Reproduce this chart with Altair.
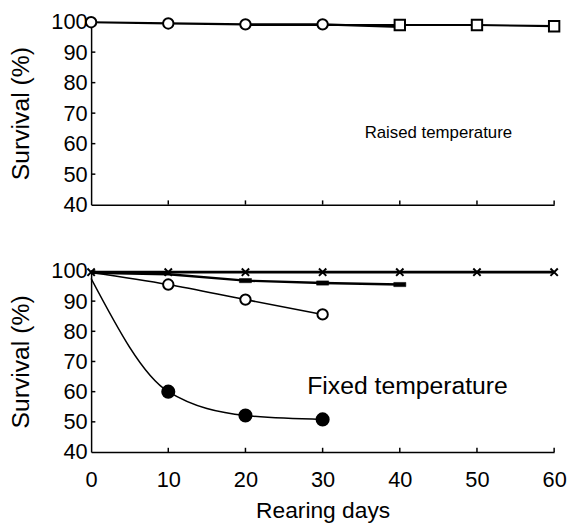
import altair as alt
import pandas as pd

# ---------------- data ----------------
# Raised temperature panel
raised_circle_days = [0, 10, 20, 30, 40]
raised_circle_vals = [99.8, 99.4, 99.1, 99.1, 98.3]
raised_circle_mark = [True, True, True, True, False]
raised_square_days = [20, 30, 40, 50, 60]
raised_square_vals = [98.9, 98.9, 98.9, 98.9, 98.5]
raised_square_mark = [False, False, True, True, True]

# Fixed temperature panel
fixed_cross_days = [0, 10, 20, 30, 40, 50, 60]
fixed_cross_vals = [99.6, 99.6, 99.6, 99.6, 99.6, 99.6, 99.6]
fixed_dash_days = [0, 10, 20, 30, 40]
fixed_dash_vals = [99.4, 98.9, 96.8, 96.0, 95.5]
fixed_dash_mark = [False, False, True, True, True]
fixed_open_days = [0, 10, 20, 30]
fixed_open_vals = [99.5, 95.5, 90.5, 85.6]
fixed_open_mark = [False, True, True, True]
fixed_filled_days = [0, 10, 20, 30]
fixed_filled_vals = [97.5, 60.0, 52.1, 50.8]
fixed_filled_mark = [False, True, True, True]

y_tick_values = [40, 50, 60, 70, 80, 90, 100]
x_tick_values = [0, 10, 20, 30, 40, 50, 60]
inner_y_ticks = [50, 60, 70, 80, 90, 100]
inner_x_ticks = [10, 20, 30, 40, 50, 60]

FONT = "Liberation Sans"
W = 468
H_TOP, H_BOT = 185, 183

CROSS = "M-1,-1L1,1M-1,1L1,-1"
DASH = "M-1,-0.35L1,-0.35L1,0.35L-1,0.35Z"

xscale = alt.Scale(domain=[0, 60], nice=False, zero=False)
yscale = alt.Scale(domain=[40, 100], nice=False, zero=False)

YAXIS = alt.Axis(values=y_tick_values, title="Survival (%)", ticks=False, labelPadding=4,
                 titlePadding=18, titleFontSize=25)
XAXIS_TOP = alt.Axis(values=x_tick_values, labels=False, ticks=False, title=None)
XAXIS_BOT = alt.Axis(values=x_tick_values, ticks=False, title="Rearing days",
                     labelPadding=18, titlePadding=9)


def enc(xa, ya, xf="day:Q", yf="val:Q"):
    return dict(x=alt.X(xf, scale=xscale, axis=xa), y=alt.Y(yf, scale=yscale, axis=ya))


def series_df(days, vals, marks=None):
    df = pd.DataFrame({"day": days, "val": vals})
    if marks is not None:
        df["mark"] = marks
    return df


def line(df, xa, width=2.0, interp="linear"):
    return alt.Chart(df).mark_line(color="black", strokeWidth=width, interpolate=interp).encode(
        **enc(xa, YAXIS)
    )


def points(df, xa, shape, size, fill, stroke_w=2.0, filled=True):
    d = df[df["mark"]] if "mark" in df.columns else df
    kw = dict(shape=shape, size=size, stroke="black", strokeWidth=stroke_w, opacity=1)
    if filled:
        kw.update(filled=True, fill=fill)
    else:
        kw.update(filled=False)
    return alt.Chart(d).mark_point(**kw).encode(**enc(xa, YAXIS))


def ticks(xa):
    ydf = pd.DataFrame({"val": inner_y_ticks, "day": [0] * len(inner_y_ticks),
                        "day2": [0.55] * len(inner_y_ticks)})
    xdf = pd.DataFrame({"day": inner_x_ticks, "val": [40] * len(inner_x_ticks),
                        "val2": [41.4] * len(inner_x_ticks)})
    yt = alt.Chart(ydf).mark_rule(color="black", strokeWidth=1.5).encode(
        **enc(xa, YAXIS), x2="day2:Q"
    )
    xt = alt.Chart(xdf).mark_rule(color="black", strokeWidth=1.5).encode(
        **enc(xa, YAXIS), y2="val2:Q"
    )
    return [yt, xt]


def label(xa, text, day, val, size):
    df = pd.DataFrame({"day": [day], "val": [val], "t": [text]})
    return alt.Chart(df).mark_text(font=FONT, fontSize=size, color="black").encode(
        **enc(xa, YAXIS), text="t:N"
    )


# ---------------- top panel ----------------
rc = series_df(raised_circle_days, raised_circle_vals, raised_circle_mark)
rs = series_df(raised_square_days, raised_square_vals, raised_square_mark)
xa = XAXIS_TOP
top = alt.layer(
    *ticks(xa),
    line(rc, xa, 2.2),
    line(rs, xa, 2.2),
    points(rc, xa, "circle", 110, "white"),
    points(rs, xa, "square", 110, "white"),
    label(xa, "Raised temperature", 45.0, 63.5, 17),
).properties(width=W, height=H_TOP)

# ---------------- bottom panel ----------------
fc = series_df(fixed_cross_days, fixed_cross_vals)
fd = series_df(fixed_dash_days, fixed_dash_vals, fixed_dash_mark)
fo = series_df(fixed_open_days, fixed_open_vals, fixed_open_mark)
ff = series_df(fixed_filled_days, fixed_filled_vals, fixed_filled_mark)
xa = XAXIS_BOT
bottom = alt.layer(
    *ticks(xa),
    line(fc, xa, 2.6),
    line(fd, xa, 2.4),
    line(fo, xa, 1.6, "monotone"),
    line(ff, xa, 1.6, "monotone"),
    points(fc, xa, CROSS, 55, "black", 2.0, filled=False),
    points(fd, xa, DASH, 150, "black", 0.5),
    points(fo, xa, "circle", 110, "white"),
    points(ff, xa, "circle", 150, "black"),
    label(xa, "Fixed temperature", 41.0, 62, 25),
).properties(width=W, height=H_BOT)

chart = alt.vconcat(top, bottom, spacing=45).properties(
    padding={"left": 0, "top": 0, "right": 0, "bottom": 0}
).configure_view(stroke=None).configure_axis(
    domainColor="black",
    domainWidth=1.5,
    grid=False,
    labelFont=FONT,
    labelFontSize=22,
    labelColor="black",
    labelOverlap=False,
    labelFlush=False,
    titleFont=FONT,
    titleFontSize=23,
    titleFontWeight="normal",
    titleColor="black",
)

chart.save("out.html", embed_options={"renderer": "svg", "actions": False})
